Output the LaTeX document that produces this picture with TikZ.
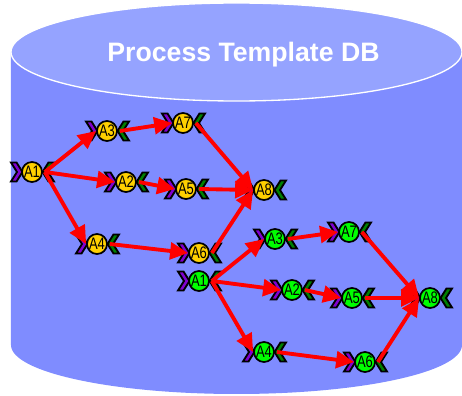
\documentclass[tikz,border=0pt]{standalone}
\usepackage{fontspec}
\setmainfont{Liberation Sans}
\usetikzlibrary{arrows.meta}
\definecolor{bodyblue}{HTML}{7F8CFF}
\definecolor{topblue}{HTML}{95A3FF}
\definecolor{chevpurple}{HTML}{8000D0}
\definecolor{chevgreen}{HTML}{008000}
\definecolor{nodeyellow}{HTML}{FFD000}
\definecolor{nodegreen}{HTML}{00FF00}
\tikzset{
  activity/.style={circle,draw=black,line width=1.3pt,minimum size=15pt,inner sep=0pt,
    font=\fontsize{12.5}{12.5}\selectfont,text=black},
  flow/.style={draw=red,line width=2.9pt,-{Triangle[length=13.5pt,width=12.5pt]}},
  chevron/.style={draw=black,line width=1.4pt,line join=miter,miter limit=6},
}
% \activity{name}{x}{y}{fill}{label}
\newcommand{\activity}[5]{%
  \draw[chevron,fill=chevpurple] (#2-21,#3-9.5) -- (#2-15.5,#3-9.5) -- (#2-9.5,#3) -- (#2-15.5,#3+9.5)
    -- (#2-21,#3+9.5) -- (#2-15,#3) -- cycle;
  \draw[chevron,fill=chevgreen] (#2+22,#3-9.5) -- (#2+16.5,#3-9.5) -- (#2+10.5,#3) -- (#2+16.5,#3+9.5)
    -- (#2+22,#3+9.5) -- (#2+16,#3) -- cycle;
  \node[activity,fill=#4] (#1) at (#2,#3) {\addfontfeature{FakeStretch=0.78}#5};
}
\newcommand{\flowto}[2]{\draw[flow] ([xshift=1.5pt]#1.east) -- ([xshift=0pt]#2.west);}
\begin{document}
\begin{tikzpicture}[x=0.75pt,y=-0.75pt]
\useasboundingbox (0,0) rectangle (462,396);
% cylinder
\fill[bodyblue] (11,52) -- (11,345) arc[start angle=180,end angle=0,x radius=225.5,y radius=49]
  -- (462,52) -- cycle;
\draw[white,line width=1pt,fill=topblue] (236.5,52) ellipse[x radius=225.5,y radius=49];
\node[text=white,font=\fontsize{20}{20}\selectfont\bfseries] (title) at (243.5,55) {Process Template DB};
% yellow process
\activity{ya1}{32}{172}{nodeyellow}{A1}
\activity{ya3}{107}{131}{nodeyellow}{A3}
\activity{ya7}{183}{123}{nodeyellow}{A7}
\activity{ya2}{126}{182}{nodeyellow}{A2}
\activity{ya5}{186}{189}{nodeyellow}{A5}
\activity{ya4}{97}{244}{nodeyellow}{A4}
\activity{ya6}{199}{253}{nodeyellow}{A6}
\activity{ya8}{264}{190}{nodeyellow}{A8}
% green process
\activity{ga1}{199}{281}{nodegreen}{A1}
\activity{ga3}{275}{239}{nodegreen}{A3}
\activity{ga7}{349}{232}{nodegreen}{A7}
\activity{ga2}{292}{290}{nodegreen}{A2}
\activity{ga5}{352}{298}{nodegreen}{A5}
\activity{ga4}{264}{352}{nodegreen}{A4}
\activity{ga6}{365}{362}{nodegreen}{A6}
\activity{ga8}{430}{298}{nodegreen}{A8}
% connectors
\foreach \p in {y,g}{
  \flowto{\p a1}{\p a3}
  \flowto{\p a1}{\p a2}
  \flowto{\p a1}{\p a4}
  \flowto{\p a3}{\p a7}
  \flowto{\p a2}{\p a5}
  \flowto{\p a4}{\p a6}
  \flowto{\p a7}{\p a8}
  \flowto{\p a5}{\p a8}
  \flowto{\p a6}{\p a8}
}
\end{tikzpicture}
\end{document}
